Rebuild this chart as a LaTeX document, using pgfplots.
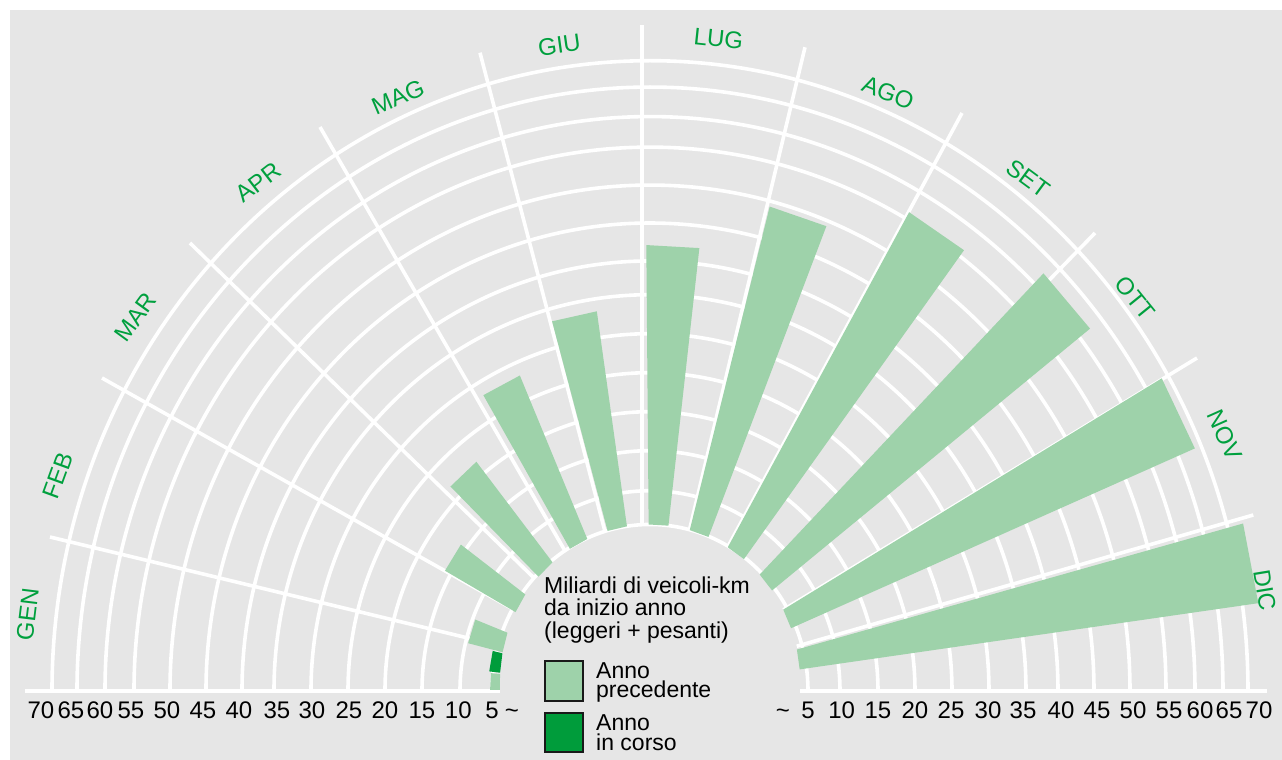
\documentclass[border=0pt]{standalone}
\usepackage{pgfplots}
\pgfplotsset{compat=1.18}
\usepackage{pgfplotstable}
\usepackage{fontspec}
\setmainfont{Liberation Sans}
\definecolor{bg}{HTML}{E6E6E6}
\definecolor{prev}{HTML}{9ED2AA}
\definecolor{curr}{HTML}{009C3B}
\definecolor{lab}{HTML}{00A03E}
\newcommand\ff{\fontsize{23}{23}\selectfont}
\newcommand\fm{\fontsize{24}{24}\selectfont}
\def\sy{1.054}% vertical stretch of the semicircle
% radial scale of the chart (value -> radius in px), read off the grid circles
\pgfmathdeclarefunction{vrad}{1}{%
  \pgfmathparse{158+6.4*min(#1-5,0)+6.4*max(0,min(5,#1-5))+7.6*max(0,min(5,#1-10))+7.4*max(0,min(5,#1-15))+7.4*max(0,min(5,#1-20))+7.4*max(0,min(5,#1-25))+7.4*max(0,min(5,#1-30))+6.4*max(0,min(5,#1-35))+7.2*max(0,min(5,#1-40))+7.2*max(0,min(5,#1-45))+7.2*max(0,min(5,#1-50))+5.8*max(0,min(5,#1-55))+5.6*max(0,min(5,#1-60))+5.0*max(0,#1-65)}}

% month index m: 0 = GEN ... 11 = DIC ; v = miliardi di veicoli-km da inizio anno
\pgfplotstableread{
m v
0 5.3
1 9.6
2 15.9
3 21.8
4 28.3
5 33.4
6 42.1
7 49.3
8 56.2
9 62.4
10 68.7
11 73.2
}\prevyear
\pgfplotstableread{
m v
0 5.6
}\curryear

\newcommand\mkbar[4]{%
  \pgfmathsetmacro\Rv{vrad(#3)}%
  \pgfmathsetmacro\ria{150+8*sin(#1)}%
  \pgfmathsetmacro\rib{150+8*sin(#2)}%
  \pgfmathsetmacro\xa{\ria*cos(#1)}\pgfmathsetmacro\ya{\sy*\ria*sin(#1)}%
  \pgfmathsetmacro\xb{\Rv*cos(#1)}\pgfmathsetmacro\yb{\sy*\Rv*sin(#1)}%
  \pgfmathsetmacro\xc{\Rv*cos(#2)}\pgfmathsetmacro\yc{\sy*\Rv*sin(#2)}%
  \pgfmathsetmacro\xd{\rib*cos(#2)}\pgfmathsetmacro\yd{\sy*\rib*sin(#2)}%
  \edef\tmp{\noexpand\addplot[fill=#4,draw=none,forget plot] coordinates {(\xa,\ya) (\xb,\yb) (\xc,\yc) (\xd,\yd)};}\tmp
}

\begin{document}
\begin{tikzpicture}[x=1pt,y=1pt]
\fill[white] (-650,-69) rectangle (632,691);
\fill[bg] (-640,-69) rectangle (632,681);
% grid (half ellipses)
\foreach \v in {5,10,...,70}{%
  \pgfmathsetmacro\R{vrad(\v)}%
  \pgfmathsetmacro\Ry{\R*\sy}%
  \draw[white,line width=3.6pt] (\R pt,0pt) arc[start angle=0,end angle=180,x radius=\R pt,y radius=\Ry pt];
}
% radial lines: outer end P, point Q on the line near the centre
\foreach \px/\py/\qx/\qy in {603.3/176/0/2.6,547/333/0/0,445/458/0/0,312/578/0/0,155/643.7/0.9/0,-8.3/666/-8.3/0,-170/638.3/-3.4/0,-330/564/-4/0,-460/448/-3/3,-548/313/-2/6,-600/154/0/9}{%
  \pgfmathsetmacro\dx{\px-(\qx)}%
  \pgfmathsetmacro\dy{\py-(\qy)}%
  \pgfmathsetmacro\nn{100*sqrt((\dx/100)^2+(\dy/(100*\sy))^2)}%
  \pgfmathsetmacro\st{\dy/(\sy*\nn)}%
  \pgfmathsetmacro\fr{(150+8*\st)/\nn}%
  \pgfmathsetmacro\ix{\qx+\fr*\dx}%
  \pgfmathsetmacro\iy{\qy+\fr*\dy}%
  \draw[white,line width=3.6pt] (\ix pt,\iy pt) -- (\px pt,\py pt);
}
\draw[white,line width=3.6pt] (-625pt,0pt) -- (-150pt,0pt) (150pt,0pt) -- (617pt,0pt);

\begin{axis}[x=1pt,y=1pt,anchor=south west,at={(-650pt,-69pt)},
  xmin=-650,xmax=632,ymin=-69,ymax=691,hide axis,clip=false]
\pgfplotsinvokeforeach{0,...,11}{%
  \pgfplotstablegetelem{#1}{m}\of{\prevyear}\let\mm\pgfplotsretval
  \pgfplotstablegetelem{#1}{v}\of{\prevyear}\let\vv\pgfplotsretval
  \pgfmathsetmacro\lo{165-15*\mm+7.8+0.1*(11-\mm)}%
  \pgfmathsetmacro\hi{min(\lo+7.2,179.6)}%
  \mkbar{\lo}{\hi}{\vv}{prev}%
}
\pgfplotsinvokeforeach{0}{%
  \pgfplotstablegetelem{#1}{m}\of{\curryear}\let\mm\pgfplotsretval
  \pgfplotstablegetelem{#1}{v}\of{\curryear}\let\vv\pgfplotsretval
  \pgfmathsetmacro\lo{165-15*\mm+0.3+0.1*(11-\mm)}%
  \pgfmathsetmacro\hi{\lo+7.0}%
  \mkbar{\lo}{\hi}{\vv}{curr}%
}
\end{axis}

% month labels
\foreach \txt/\ang/\rr in {GEN/173/627,FEB/160/630,MAR/144/636,APR/127.6/642,MAG/113/645,GIU/98/652,LUG/84/656,AGO/68.3/644,SET/53.6/637,OTT/39/624,NOV/24/629,DIC/9.3/623}{%
  \node[text=lab,font=\fm,rotate=\ang-90,inner sep=0pt] at (\ang:\rr pt) {\txt};
}
% scale labels
\foreach \v/\xx in {5/158,10/191.7,15/228,20/265,25/301,30/338,35/373,40/411,45/447,50/483,55/519,60/550,65/579,70/609}{%
  \node[font=\fm,anchor=base,inner sep=0pt] at (\xx pt,-27.3pt) {\v};
  \node[font=\fm,anchor=base,inner sep=0pt] at (-\xx pt,-27.3pt) {\v};
}
\node[font=\fm,anchor=base,inner sep=0pt] at (133pt,-27.3pt) {\textasciitilde};
\node[font=\fm,anchor=base,inner sep=0pt] at (-138pt,-27.3pt) {\textasciitilde};

% legend
\node[font=\ff,anchor=base west,inner sep=0pt] at (-106pt,97.7pt) {Miliardi di veicoli-km};
\node[font=\ff,anchor=base west,inner sep=0pt] at (-106pt,75.2pt) {da inizio anno};
\node[font=\ff,anchor=base west,inner sep=0pt] at (-106pt,52.7pt) {(leggeri + pesanti)};
\draw[fill=prev,draw=black!90,line width=2pt] (-105pt,-9.7pt) rectangle (-67pt,30pt);
\draw[fill=curr,draw=black!90,line width=2pt] (-105pt,-60.7pt) rectangle (-67pt,-21.7pt);
\node[font=\ff,anchor=base west,inner sep=0pt] at (-54pt,12.7pt) {Anno};
\node[font=\ff,anchor=base west,inner sep=0pt] at (-54pt,-6.3pt) {precedente};
\node[font=\ff,anchor=base west,inner sep=0pt] at (-54pt,-39.7pt) {Anno};
\node[font=\ff,anchor=base west,inner sep=0pt] at (-54pt,-59.7pt) {in corso};
\end{tikzpicture}
\end{document}
